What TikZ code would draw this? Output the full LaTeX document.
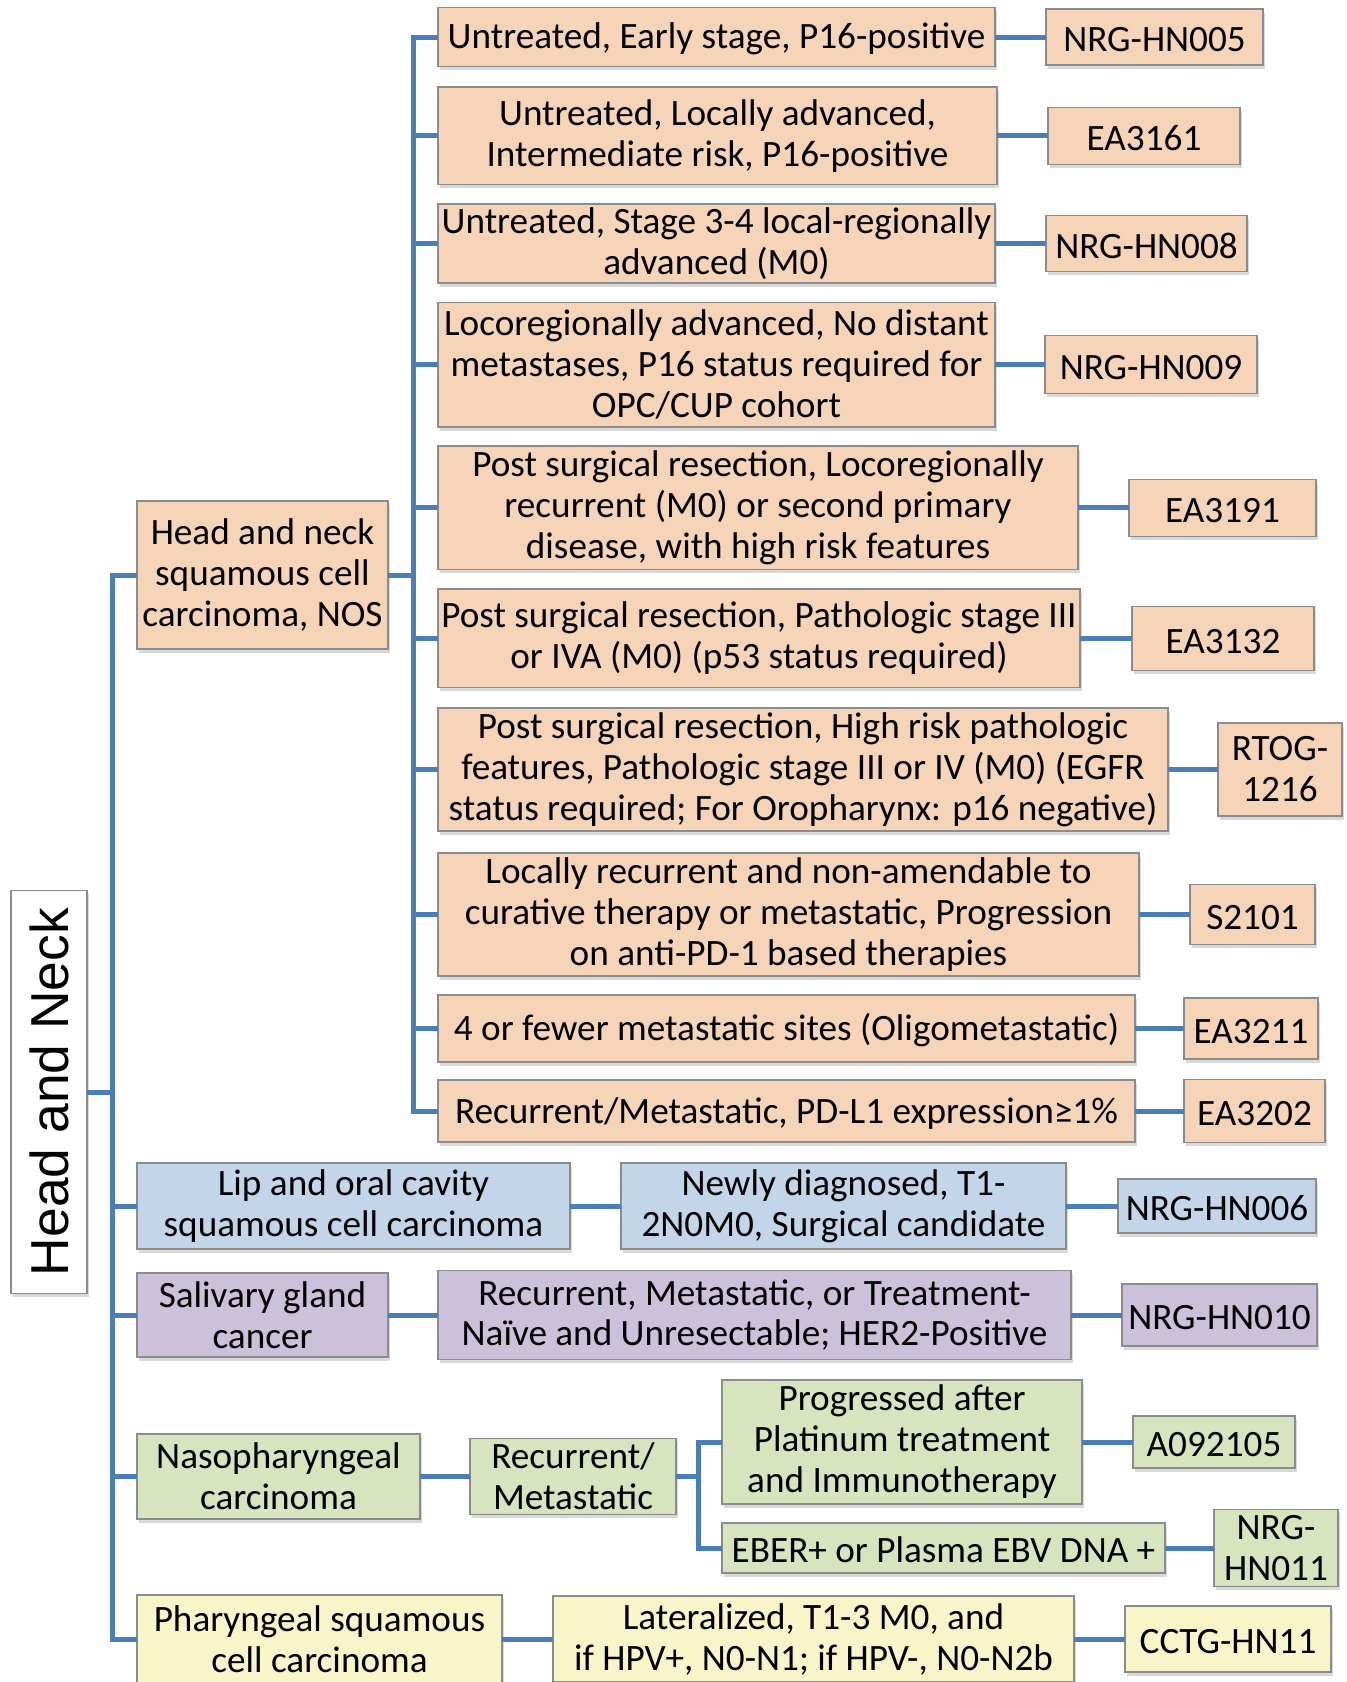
\documentclass[tikz,border=0pt]{standalone}
\usepackage{fontspec}
\setmainfont{Carlito}
\newfontfamily\titlefont{Liberation Sans}
\usetikzlibrary{positioning,shadows}

\definecolor{peach}{HTML}{F6D4B8}
\definecolor{lblue}{HTML}{C3D5E9}
\definecolor{lilac}{HTML}{CCC1DA}
\definecolor{lgreen}{HTML}{D8E4BE}
\definecolor{lyellow}{HTML}{F8F6C9}
\definecolor{linkblue}{HTML}{4A7EBB}

\begin{document}
\begin{tikzpicture}
  [
  x=0.5pt, y=-0.5pt,
  txtbox/.style={rectangle,align=center,draw=black!45,line width=0.7pt,
    inner xsep=1pt,inner ysep=1pt,outer sep=0pt,
    font=\fontsize{18.6}{20.5}\selectfont,
    execute at begin node={\rule{0pt}{15pt}},
    drop shadow={opacity=0.3,shadow xshift=1pt,shadow yshift=-1.8pt}},
  txtbox1/.style={txtbox,fill=peach},
  txtbox2/.style={txtbox,fill=lblue},
  txtbox3/.style={txtbox,fill=lilac},
  txtbox4/.style={txtbox,fill=lgreen},
  txtbox5/.style={txtbox,fill=lyellow},
  link/.style={draw=linkblue,line width=2.5pt}
  ]
  \useasboundingbox (0,0) rectangle (1347,1682);

  \node (hn) [txtbox,fill=white,rotate=90] at (49,1092)
  [minimum width=201.5pt,minimum height=38pt,font=\titlefont\fontsize{26.7}{30}\selectfont]
  {Head and Neck};
  \node (hnscc) [txtbox1] at (262.5,575) [minimum width=125.5pt,minimum height=74pt]
  {Head and neck \\ squamous cell \\ carcinoma, NOS};

  \node (crit1)  [txtbox1,anchor=west] at (438,37)     [minimum width=278.5pt,minimum height=29.5pt]
  {Untreated, Early stage, P16-positive};
  \node (crit2)  [txtbox1,anchor=west] at (438,135.75) [minimum width=279.5pt,minimum height=48.75pt]
  {Untreated, Locally advanced, \\ Intermediate risk, P16-positive};
  \node (crit3)  [txtbox1,anchor=west] at (438,243.5)  [minimum width=278.5pt,minimum height=39.5pt]
  {Untreated, Stage 3-4 local-regionally \\ advanced (M0)};
  \node (crit4)  [txtbox1,anchor=west] at (438,364.75) [minimum width=278.5pt,minimum height=62.25pt]
  {Locoregionally advanced, No distant \\ metastases, P16 status required for \\ OPC/CUP cohort};
  \node (crit5)  [txtbox1,anchor=west] at (438,507.75) [minimum width=320pt,minimum height=61.75pt]
  {Post surgical resection, Locoregionally \\ recurrent (M0) or second primary \\ disease, with high risk features};
  \node (crit6)  [txtbox1,anchor=west] at (438,638.25) [minimum width=321pt,minimum height=49.25pt]
  {Post surgical resection, Pathologic stage III \\ or IVA (M0) (p53 status required)};
  \node (crit7)  [txtbox1,anchor=west] at (438,769.5)  [minimum width=365pt,minimum height=61.5pt]
  {Post surgical resection, High risk pathologic \\ features, Pathologic stage III or IV (M0) (EGFR \\ status required; For Oropharynx: p16 negative)};
  \node (crit8)  [txtbox1,anchor=west] at (438,914.5)  [minimum width=350.5pt,minimum height=61.5pt]
  {Locally recurrent and non-amendable to \\ curative therapy or metastatic, Progression \\ on anti-PD-1 based therapies};
  \node (crit9)  [txtbox1,anchor=west] at (438,1028.5) [minimum width=348.5pt,minimum height=33.5pt]
  {4 or fewer metastatic sites (Oligometastatic)};
  \node (crit10) [txtbox1,anchor=west] at (438,1111)   [minimum width=348.5pt,minimum height=31pt]
  {Recurrent/Metastatic, PD-L1 expression≥1\%};

  \node (nrg005) [txtbox1] [right=25.5pt of crit1]  [minimum width=108.5pt,minimum height=28pt]   {NRG-HN005};
  \node (ea3161) [txtbox1] [right=25.5pt of crit2]  [minimum width=96pt,minimum height=28.5pt]   {EA3161};
  \node (nrg008) [txtbox1] [right=25.5pt of crit3]  [minimum width=100.5pt,minimum height=28.25pt] {NRG-HN008};
  \node (nrg009) [txtbox1] [right=25pt of crit4]    [minimum width=106pt,minimum height=29pt]     {NRG-HN009};
  \node (ea3191) [txtbox1] [right=25.5pt of crit5]  [minimum width=93.5pt,minimum height=28.5pt]  {EA3191};
  \node (ea3132) [txtbox1] [right=26pt of crit6]    [minimum width=91pt,minimum height=32pt]     {EA3132};
  \node (rtog)   [txtbox1] [right=25pt of crit7]    [minimum width=62pt,minimum height=46.5pt]   {RTOG- \\ 1216};
  \node (s2101)  [txtbox1] [right=25.5pt of crit8]  [minimum width=62.5pt,minimum height=30pt]   {S2101};
  \node (ea3211) [txtbox1] [right=24.5pt of crit9]  [minimum width=67pt,minimum height=30.5pt]   {EA3211};
  \node (ea3202) [txtbox1] [right=24.5pt of crit10] [minimum width=70.5pt,minimum height=31.5pt] {EA3202};

  \node (lip) [txtbox2] at (353.5,1206) [minimum width=216.5pt,minimum height=43pt]
  {Lip and oral cavity \\ squamous cell carcinoma};
  \node (newly) [txtbox2] [right=25.5pt of lip] [minimum width=222.5pt,minimum height=43pt]
  {Newly diagnosed, T1- \\ 2N0M0, Surgical candidate};
  \node (nrg006) [txtbox2] [right=26pt of newly] [minimum width=99pt,minimum height=27pt] {NRG-HN006};

  \node (sal) [txtbox3] at (262.5,1315) [minimum width=125.5pt,minimum height=42pt]
  {Salivary gland \\ cancer};
  \node (her2) [txtbox3] [right=25pt of sal] [minimum width=316.5pt,minimum height=44.5pt]
  {Recurrent, Metastatic, or Treatment- \\ Naïve and Unresectable; HER2-Positive};
  \node (nrg010) [txtbox3] [right=25.5pt of her2] [minimum width=97.5pt,minimum height=31pt] {NRG-HN010};

  \node (naso) [txtbox4] at (278.5,1476.5) [minimum width=141.5pt,minimum height=42.5pt]
  {Nasopharyngeal \\ carcinoma};
  \node (recmet) [txtbox4] [right=25pt of naso] [minimum width=103pt,minimum height=38pt]
  {Recurrent/ \\ Metastatic};
  \node (prog) [txtbox4,anchor=west] at (722,1442) [minimum width=180pt,minimum height=62pt]
  {Progressed after \\ Platinum treatment \\ and Immunotherapy};
  \node (a092105) [txtbox4] [right=25.5pt of prog] [minimum width=81pt,minimum height=26pt] {A092105};
  \node (eber) [txtbox4,anchor=west] at (722,1548) [minimum width=221.5pt,minimum height=25pt]
  {EBER+ or Plasma EBV DNA +};
  \node (nrg011) [txtbox4] [right=24.5pt of eber] [minimum width=62pt,minimum height=38.5pt]
  {NRG- \\ HN011};

  \node (phar) [txtbox5] at (319.5,1639) [minimum width=182.5pt,minimum height=44pt]
  {Pharyngeal squamous \\ cell carcinoma};
  \node (lat) [txtbox5] [right=25.5pt of phar] [minimum width=260.5pt,minimum height=43pt]
  {Lateralized, T1-3 M0, and \\ if HPV+, N0-N1; if HPV-, N0-N2b};
  \node (cctg) [txtbox5] [right=25.5pt of lat] [minimum width=103pt,minimum height=33pt] {CCTG-HN11};

  \coordinate (t1) at (112,0);
  \coordinate (t2) at (413,0);
  \coordinate (t3) at (698,0);

  \draw [link] (hn.south) -- (t1 |- hn.south);
  \draw [link] (hnscc.west) -| (t1 |- phar.west) -- (phar.west);
  \foreach \n in {lip,sal,naso}
    \draw [link] (t1 |- \n.west) -- (\n.west);
  \draw [link] (hnscc.east) -- (t2 |- hnscc.east);
  \draw [link] (crit1.west) -| (t2 |- crit10.west) -- (crit10.west);
  \foreach \n in {2,...,9}
    \draw [link] (t2 |- crit\n.west) -- (crit\n.west);
  \draw [link] (recmet.east) -- (t3 |- recmet.east);
  \draw [link] (prog.west) -| (t3 |- eber.west) -- (eber.west);
  \foreach \a/\b in {crit1/nrg005,crit2/ea3161,crit3/nrg008,crit4/nrg009,crit5/ea3191,
    crit6/ea3132,crit7/rtog,crit8/s2101,crit9/ea3211,crit10/ea3202,
    lip/newly,newly/nrg006,sal/her2,her2/nrg010,naso/recmet,
    prog/a092105,eber/nrg011,phar/lat,lat/cctg}
    \draw [link] (\a.east) -- (\b.west);
\end{tikzpicture}
\end{document}
